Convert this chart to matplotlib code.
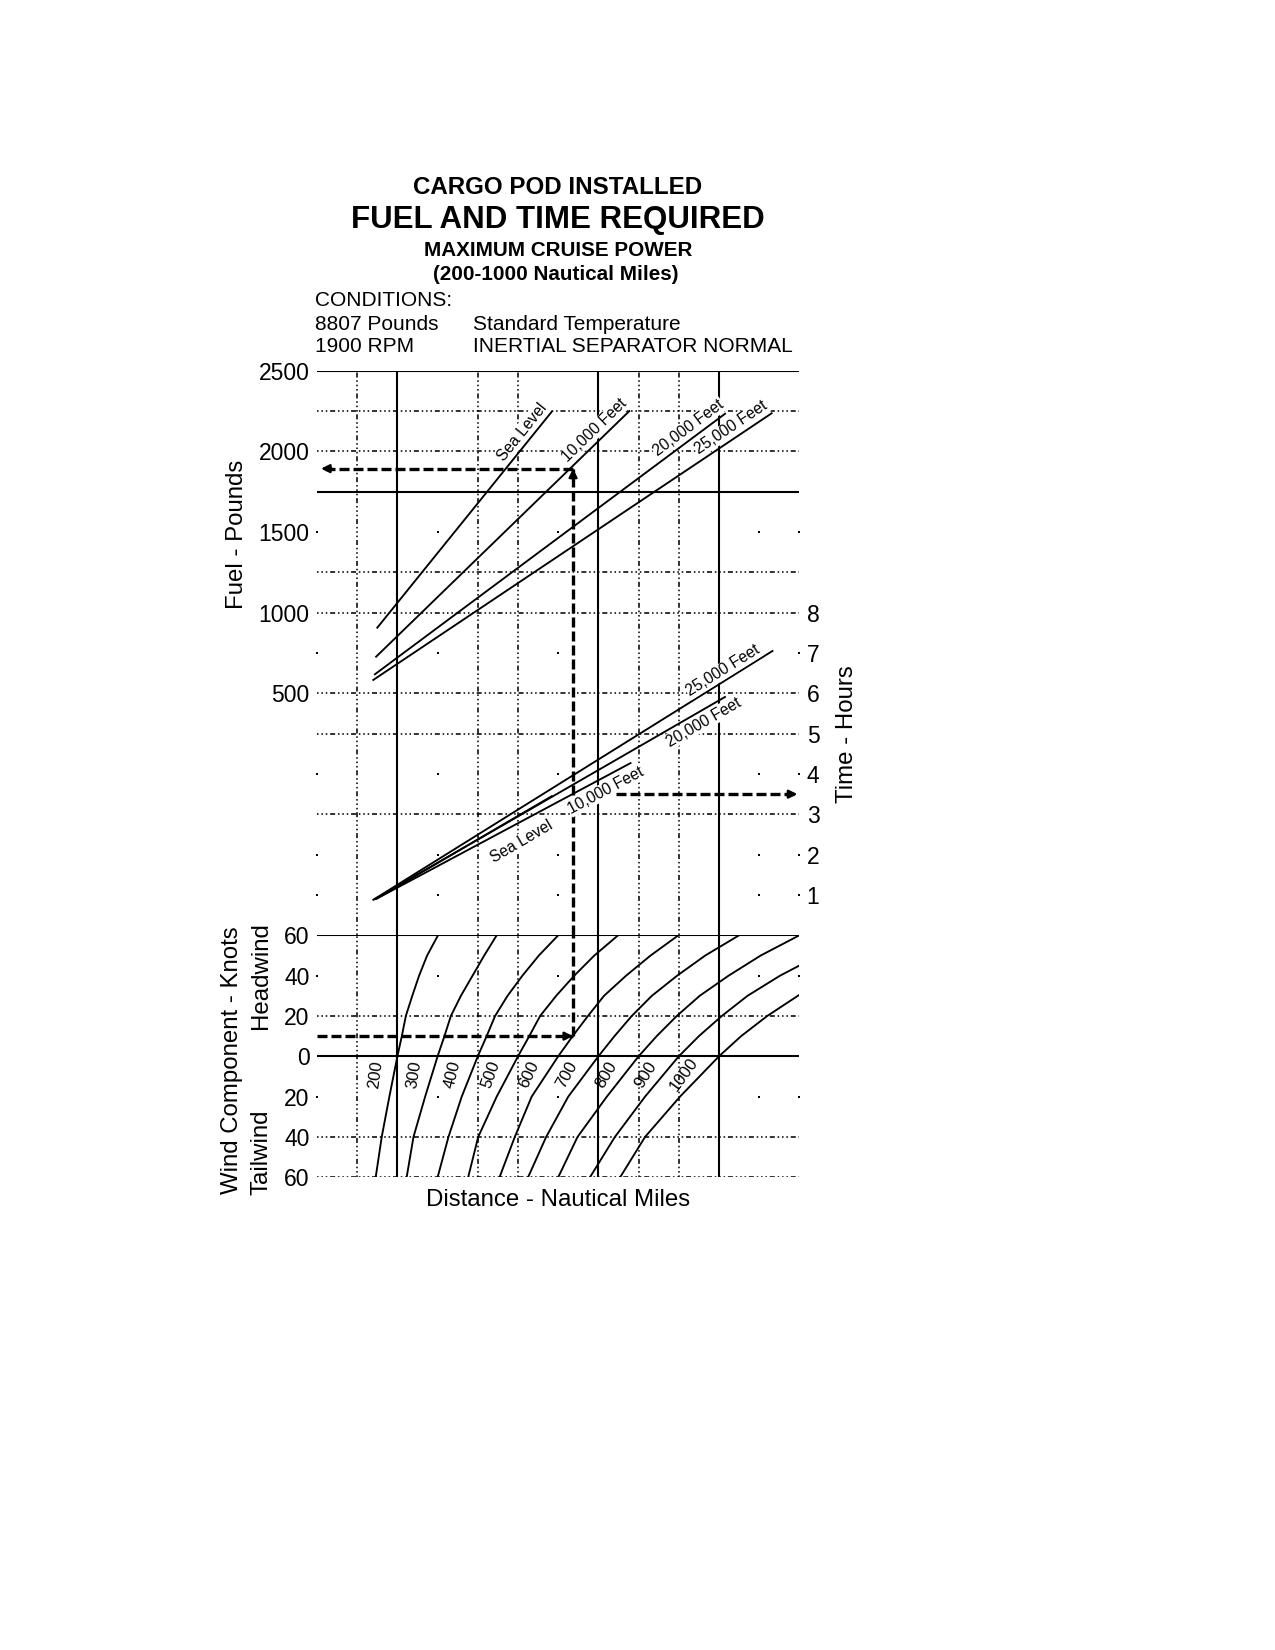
import numpy as np
import matplotlib
matplotlib.use("Agg")
import matplotlib.pyplot as plt
from matplotlib.ticker import FuncFormatter

plt.rcParams['font.family'] = ['Liberation Sans', 'DejaVu Sans']

# ---------------- data ----------------
altitudes = ['Sea Level', '10,000 Feet', '20,000 Feet', '25,000 Feet']

# fuel required (lb) vs still-air distance (nm)
fuel_dist = [[150, 584], [147, 777], [144, 1015], [140, 1131]]
fuel_lbs = [[907, 2246], [727, 2250], [618, 2233], [583, 2236]]

# time required (hours) vs still-air distance (nm)
time_dist = [[150, 584], [147, 780], [144, 1015], [140, 1133]]
time_hrs = [[0.92, 3.45], [0.90, 4.27], [0.90, 5.91], [0.88, 7.05]]

# wind correction curves: actual distance -> still-air distance
wind_curves = [200, 300, 400, 500, 600, 700, 800, 900, 1000]
wind_kt = [-60, -40, -20, 0, 10, 20, 30, 40, 50, 60]
wind_kt_900 = [-60, -40, -20, 0, 10, 20, 30, 40, 45]
wind_kt_1000 = [-60, -40, -20, 0, 10, 20, 30.5]
dist_200 = [146, 161, 180, 200, 211, 221, 237, 254, 274, 301]
dist_300 = [223, 240, 269, 300, 317, 333, 358, 387, 416, 447]
dist_400 = [300, 327, 360, 400, 422, 443, 474, 511, 552, 600]
dist_500 = [376, 401, 447, 500, 528, 555, 595, 640, 690, 749]
dist_600 = [454, 492, 534, 600, 636, 674, 714, 769, 830, 899]
dist_700 = [525, 570, 625, 700, 740, 783, 833, 896, 966, 1050]
dist_800 = [600, 648, 721, 800, 845, 895, 952, 1024, 1104, 1200]
dist_900 = [679, 741, 816, 900, 950, 1007, 1071, 1152, 1200]
dist_1000 = [754, 816, 903, 1000, 1055, 1120, 1200]

# worked example: 600 nm, 10 kt headwind, 10,000 ft
ex_dist, ex_wind, ex_fuel, ex_time = 637, 10, 1893, 3.5

fuel_ticks = [500, 1000, 1500, 2000, 2500]
hour_ticks = [1, 2, 3, 4, 5, 6, 7, 8]
wind_ticks = [-60, -40, -20, 0, 20, 40, 60]

# ---------------- layout ----------------
W, H = 1275, 1650
X0, X1 = 317, 799.4
Y_TOP, Y_MID, Y_BOT = 370.7, 935.3, 1177.3


def box(l, t, r, b):
    return [l / W, 1 - b / H, (r - l) / W, (b - t) / H]


fig = plt.figure(figsize=(8.5, 11), dpi=150)
ax_fuel = fig.add_axes(box(X0, Y_TOP, X1, Y_MID))
ax_time = ax_fuel.twinx()
ax_wind = fig.add_axes(box(X0, Y_MID, X1, Y_BOT))

ax_fuel.set_xlim(0, 1200)
ax_fuel.set_ylim(-1000, 2500)
ax_time.set_ylim(0, 14)
ax_wind.set_xlim(0, 1200)
ax_wind.set_ylim(-60, 60)

for ax in (ax_fuel, ax_time, ax_wind):
    for s in ax.spines.values():
        s.set_visible(False)
    ax.set_xticks([])
    ax.tick_params(length=0, labelsize=11, pad=3.5)

ax_fuel.set_yticks(fuel_ticks)
ax_time.set_yticks(hour_ticks)
ax_wind.set_yticks(wind_ticks)
ax_wind.yaxis.set_major_formatter(FuncFormatter(lambda v, p: '%d' % abs(v)))

# ---------------- grid ----------------
DOT = (0, (1.0, 1.8, 1.0, 1.8, 1.0, 1.8, 3.2, 1.8))
row_style = ['s', 'd', 'd', 's', None, 'd', 'd', None, 'd', 'd', None,
             'd', None, None, 's', None, 'd', 's', None, 'd', 'd']
col_style = [None, 'd', 's', None, 'd', 'd', None, 's', 'd', 'd', 's', None, None]


def row_axis(r):
    if r <= 13:
        return ax_fuel, 2500 - 250 * r
    return ax_wind, 60 - 20 * (r - 14)


for r, st in enumerate(row_style):
    ax, y = row_axis(r)
    if st == 's':
        ax.axhline(y, color='black', lw=1.0, zorder=1)
    elif st == 'd':
        ax.axhline(y, color='black', lw=0.75, ls=DOT, zorder=1)

for c, st in enumerate(col_style):
    for ax in (ax_fuel, ax_wind):
        if st == 's':
            ax.axvline(c * 100, color='black', lw=1.0, zorder=1)
        elif st == 'd':
            ax.axvline(c * 100, color='black', lw=0.75, ls=DOT, zorder=1)

# isolated dots where both the grid row and column are left out
for c, st in enumerate(col_style):
    if st is not None:
        continue
    for r, rs in enumerate(row_style):
        if rs is None:
            ax, y = row_axis(r)
            ax.plot(c * 100, y, 's', color='black', ms=1.0, mew=0, zorder=1, clip_on=False)


def line_angle(ax, xs, ys):
    p = ax.transData.transform(np.column_stack([xs, ys]))
    d = p[-1] - p[0]
    ang = np.degrees(np.arctan2(d[1], d[0]))
    n = np.array([-d[1], d[0]]) / np.hypot(d[0], d[1])
    return ang, n


lbl_box = dict(facecolor='white', edgecolor='none', pad=0.4)

# ---------------- fuel lines ----------------
fuel_lbl_at = [530, 708, 940, 1045]
for name, xs, ys, at in zip(altitudes, fuel_dist, fuel_lbs, fuel_lbl_at):
    ax_fuel.plot(xs, ys, color='black', lw=0.9, zorder=3)
    ang, n = line_angle(ax_fuel, xs, ys)
    ax_fuel.annotate(name, xy=(at, np.interp(at, xs, ys)), xytext=n * 5.0,
                     textcoords='offset points', rotation=ang, rotation_mode='anchor',
                     ha='center', va='center', fontsize=7.5, zorder=4, bbox=lbl_box)

# ---------------- time lines ----------------
time_lbl_at = [478, 705, 948, 1023]
time_lbl_off = [-11.5, -6.0, -5.3, 4.5]
for name, xs, ys, at, off in zip(altitudes, time_dist, time_hrs, time_lbl_at, time_lbl_off):
    ax_time.plot(xs, ys, color='black', lw=0.9, zorder=3)
    ang, n = line_angle(ax_time, xs, ys)
    ax_time.annotate(name, xy=(at, np.interp(at, xs, ys)), xytext=n * off,
                     textcoords='offset points', rotation=ang, rotation_mode='anchor',
                     ha='center', va='center', fontsize=7.5, zorder=4, bbox=lbl_box)

# ---------------- wind curves ----------------
curve_wind = [wind_kt] * 7 + [wind_kt_900, wind_kt_1000]
curve_dist = [dist_200, dist_300, dist_400, dist_500, dist_600, dist_700,
              dist_800, dist_900, dist_1000]
for d, ws, xs in zip(wind_curves, curve_wind, curve_dist):
    ax_wind.plot(xs, ws, color='black', lw=0.9, zorder=3)
    ang, _ = line_angle(ax_wind, [np.interp(-20, ws, xs), np.interp(0, ws, xs)], [-20, 0])
    ax_wind.annotate(str(d), xy=(np.interp(-9, ws, xs), -9), xytext=(-8.5, 0),
                     textcoords='offset points', rotation=min(ang + 8, 82),
                     rotation_mode='anchor', ha='center', va='center',
                     fontsize=8, zorder=4)

# ---------------- worked example ----------------
dash = dict(color='black', lw=1.6, ls=(0, (3.0, 1.2)), zorder=5)
ax_wind.plot([0, ex_dist], [ex_wind, ex_wind], **dash)
ax_wind.plot([ex_dist, ex_dist], [ex_wind, 60], **dash)
ax_fuel.plot([ex_dist, ex_dist], [-1000, ex_fuel], **dash)
ax_fuel.plot([ex_dist, 12], [ex_fuel, ex_fuel], **dash)
ax_time.plot([745, 1190], [ex_time, ex_time], **dash)


def head(ax, xy, dx, dy):
    ax.annotate('', xy=xy, xytext=(-dx * 5, -dy * 5), textcoords='offset points',
                arrowprops=dict(arrowstyle='-|>', color='black', lw=1.2,
                                mutation_scale=8, shrinkA=0, shrinkB=0), zorder=6)


head(ax_wind, (ex_dist, ex_wind), 1, 0)
head(ax_fuel, (ex_dist, ex_fuel), 0, 1)
head(ax_fuel, (10, ex_fuel), -1, 0)
head(ax_time, (1195, ex_time), 1, 0)

# ---------------- texts ----------------
def ftext(x, y, s, **kw):
    fig.text(x / W, 1 - y / H, s, **kw)


ftext(558, 188, 'CARGO POD INSTALLED', ha='center', va='center', fontsize=11.6, weight='bold')
ftext(558, 220, 'FUEL AND TIME REQUIRED', ha='center', va='center', fontsize=15, weight='bold')
ftext(558, 251, 'MAXIMUM CRUISE POWER', ha='center', va='center', fontsize=9.9, weight='bold')
ftext(556, 275, '(200-1000 Nautical Miles)', ha='center', va='center', fontsize=9.9, weight='bold')
ftext(315, 301, 'CONDITIONS:', ha='left', va='center', fontsize=10)
ftext(315, 324, '8807 Pounds', ha='left', va='center', fontsize=10)
ftext(473, 324, 'Standard Temperature', ha='left', va='center', fontsize=10)
ftext(315, 347, '1900 RPM', ha='left', va='center', fontsize=10)
ftext(473, 347, 'INERTIAL SEPARATOR NORMAL', ha='left', va='center', fontsize=10)

ftext(237, 534, 'Fuel - Pounds', ha='center', va='center', rotation=90, fontsize=11.5)
ftext(847, 734, 'Time - Hours', ha='center', va='center', rotation=90, fontsize=11.5)
ftext(232, 1060, 'Wind Component - Knots', ha='center', va='center', rotation=90, fontsize=11.5)
ftext(261, 976, 'Headwind', ha='center', va='center', rotation=90, fontsize=11.5)
ftext(261, 1152, 'Tailwind', ha='center', va='center', rotation=90, fontsize=11.5)
ftext(558, 1200, 'Distance - Nautical Miles', ha='center', va='center', fontsize=11.5)

fig.savefig('out.png', dpi=150, facecolor='white')
